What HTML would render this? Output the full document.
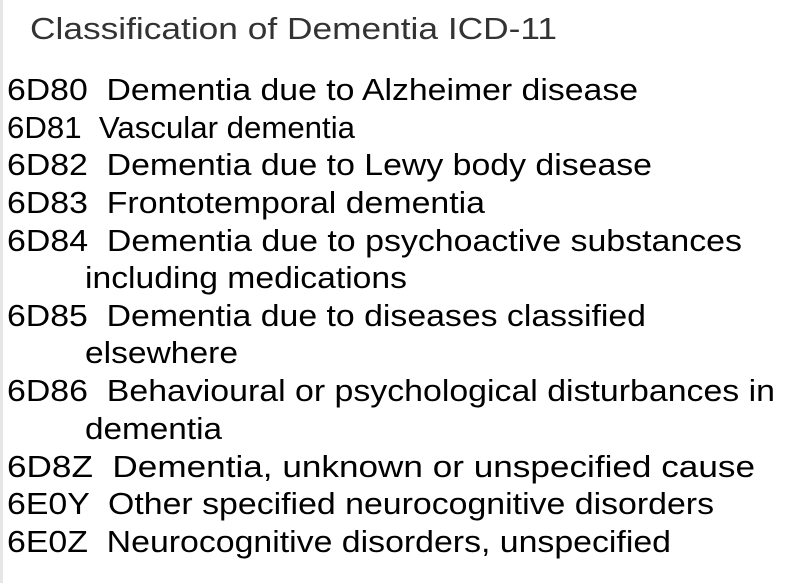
<!DOCTYPE html>
<html><head><meta charset="utf-8"><style>
html,body{margin:0;padding:0;background:#fff;width:793px;height:583px;overflow:hidden}
svg{display:block}
text{white-space:pre}
</style></head><body>
<svg width="793" height="583" font-family="Liberation Sans, Arial, sans-serif" xml:space="preserve">
<rect x="0" y="0" width="3" height="583" fill="#e6e6e6"/>
<text x="30" y="39" font-size="31" fill="#333" textLength="527" lengthAdjust="spacingAndGlyphs">Classification of Dementia ICD-11</text>
<g fill="#000" font-size="31">
<text x="7" y="100" textLength="631" lengthAdjust="spacingAndGlyphs">6D80  Dementia due to Alzheimer disease</text>
<text x="7" y="138" textLength="348" lengthAdjust="spacingAndGlyphs">6D81  Vascular dementia</text>
<text x="7" y="175" textLength="645" lengthAdjust="spacingAndGlyphs">6D82  Dementia due to Lewy body disease</text>
<text x="7" y="213" textLength="478" lengthAdjust="spacingAndGlyphs">6D83  Frontotemporal dementia</text>
<text x="7" y="251" textLength="735" lengthAdjust="spacingAndGlyphs">6D84  Dementia due to psychoactive substances</text>
<text x="85" y="288" textLength="322" lengthAdjust="spacingAndGlyphs">including medications</text>
<text x="7" y="326" textLength="639" lengthAdjust="spacingAndGlyphs">6D85  Dementia due to diseases classified</text>
<text x="85" y="363" textLength="153" lengthAdjust="spacingAndGlyphs">elsewhere</text>
<text x="7" y="401" textLength="768" lengthAdjust="spacingAndGlyphs">6D86  Behavioural or psychological disturbances in</text>
<text x="85" y="439" textLength="137" lengthAdjust="spacingAndGlyphs">dementia</text>
<text x="7" y="477" textLength="748" lengthAdjust="spacingAndGlyphs">6D8Z  Dementia, unknown or unspecified cause</text>
<text x="7" y="514" textLength="707" lengthAdjust="spacingAndGlyphs">6E0Y  Other specified neurocognitive disorders</text>
<text x="7" y="552" textLength="664" lengthAdjust="spacingAndGlyphs">6E0Z  Neurocognitive disorders, unspecified</text>
</g>
</svg>
</body></html>
